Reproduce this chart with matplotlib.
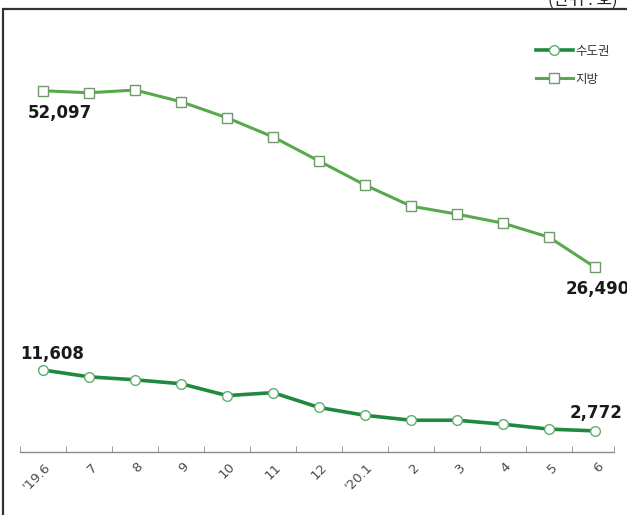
import numpy as np
import matplotlib.pyplot as plt
from matplotlib.patches import Rectangle

# ── DATA ──────────────────────────────────────────────────────────────────────
months = ["'19.6", "7", "8", "9", "10", "11", "12", "'20.1", "2", "3", "4", "5", "6"]
capital = [11608, 10610, 10180, 9610, 7890, 8320, 6170, 5030, 4320, 4320, 3740, 3030, 2772]
regional = [52097, 51800, 52200, 50500, 48170, 45400, 41900, 38420, 35360, 34200, 32890, 30850, 26490]

KR_FONT = ["Noto Sans CJK KR", "DejaVu Sans"]

# ── FIGURE ────────────────────────────────────────────────────────────────────
fig = plt.figure(figsize=(6.27, 5.15), dpi=100)
ax = fig.add_axes([0.0319, 0.1223, 0.9474, 0.8194])

x = np.arange(len(months))

ax.plot(x, regional, color="#58a84c", lw=2.2, marker="s", ms=7,
        mfc="white", mec="#6f9a6a", mew=1.0, label="지방", zorder=3)
ax.plot(x, capital, color="#1f8a3f", lw=2.6, marker="o", ms=7,
        mfc="white", mec="#5fae6e", mew=1.0, label="수도권", zorder=3)

ax.set_xlim(-0.5, 12.41)
ax.set_ylim(-290, 60900)

# only the bottom axis line, with small ticks between months
for side in ["top", "right", "left"]:
    ax.spines[side].set_visible(False)
ax.spines["bottom"].set_color("#8a8a8a")
ax.spines["bottom"].set_linewidth(1.0)
ax.set_yticks([])

ax.set_xticks(x)
ax.set_xticklabels([])
ax.tick_params(axis="x", which="major", length=0)
ax.set_xticks(list(np.arange(-0.5, 12, 1)) + [12.41], minor=True)
ax.tick_params(axis="x", which="minor", length=4, direction="in", color="#8a8a8a")

for i, lab in enumerate(months):
    ax.annotate(lab, xy=(i, 0), xycoords=("data", "axes fraction"),
                xytext=(6, -13), textcoords="offset pixels",
                rotation=45, rotation_mode="anchor", ha="right", va="center",
                fontsize=9.5, color="#4a4a4a")

# value labels at both ends of each line
lab_kw = dict(textcoords="offset pixels", ha="center", va="center",
              fontsize=12, fontweight="bold", color="#1a1a1a")
ax.annotate(f"{regional[0]:,}", xy=(0, regional[0]), xytext=(17, -22), **lab_kw)
ax.annotate(f"{regional[-1]:,}", xy=(12, regional[-1]), xytext=(3, -22), **lab_kw)
ax.annotate(f"{capital[0]:,}", xy=(0, capital[0]), xytext=(9, 16), **lab_kw)
ax.annotate(f"{capital[-1]:,}", xy=(12, capital[-1]), xytext=(1, 18), **lab_kw)

# legend: 수도권 first, then 지방
h, l = ax.get_legend_handles_labels()
leg = fig.legend(h[::-1], l[::-1], loc="upper right", bbox_to_anchor=(0.99, 0.935),
                 frameon=False, handlelength=3.0, handletextpad=0.15,
                 labelspacing=1.2, prop={"family": KR_FONT, "size": 9})
for t in leg.get_texts():
    t.set_color("#333333")

# outer frame and unit note
fig.patches.append(Rectangle((0.005, -0.1), 1.2, 0.1 + 1 - 9 / 515,
                             transform=fig.transFigure, fill=False,
                             edgecolor="#333333", lw=1.6))
fig.text(0.985, 1 - 9 / 515, "(단위 : 호)", ha="right", va="bottom",
         fontsize=12, color="#222222", family=KR_FONT)

fig.savefig("out.png", dpi=100)
